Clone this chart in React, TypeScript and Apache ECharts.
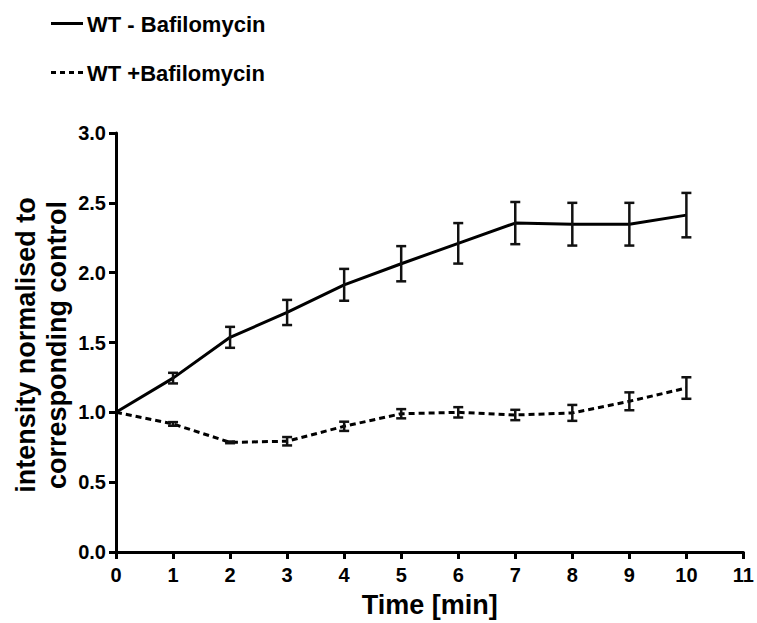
import React, { useEffect, useRef } from "react";
import * as echarts from "echarts";

const times = [0, 1, 2, 3, 4, 5, 6, 7, 8, 9, 10];
const withoutBafMean = [1.0, 1.245, 1.537, 1.715, 1.913, 2.064, 2.21, 2.355, 2.347, 2.347, 2.412];
const withoutBafErr = [0, 0.038, 0.075, 0.09, 0.114, 0.126, 0.145, 0.151, 0.153, 0.153, 0.159];
const withBafMean = [1.0, 0.917, 0.785, 0.793, 0.9, 0.99, 1.0, 0.981, 0.996, 1.079, 1.174];
const withBafErr = [0, 0.013, 0.006, 0.03, 0.033, 0.033, 0.037, 0.037, 0.057, 0.064, 0.077];

const seriesNames = ["WT - Bafilomycin", "WT +Bafilomycin"];
const xTitle = "Time [min]";
const yTitle = "intensity normalised to\ncorresponding control";

const FONT = '"Liberation Sans", Arial, Helvetica, sans-serif';

function errData(means: number[], errs: number[]) {
  return times.map((t, i) => [t, means[i] - errs[i], means[i] + errs[i]]);
}

function errRender(params: any, api: any) {
  const x = api.value(0);
  const lo = api.coord([x, api.value(1)]);
  const hi = api.coord([x, api.value(2)]);
  if (Math.abs(hi[1] - lo[1]) < 1) return null;
  const w = 5;
  const style = { stroke: "#111", lineWidth: 2.5 };
  return {
    type: "group",
    children: [
      { type: "line", shape: { x1: lo[0], y1: lo[1], x2: hi[0], y2: hi[1] }, style },
      { type: "line", shape: { x1: lo[0] - w, y1: lo[1], x2: lo[0] + w, y2: lo[1] }, style },
      { type: "line", shape: { x1: hi[0] - w, y1: hi[1], x2: hi[0] + w, y2: hi[1] }, style },
    ],
  };
}

export default function App() {
  const ref = useRef<HTMLDivElement>(null);
  useEffect(() => {
    document.body.style.margin = "0";
    const chart = echarts.init(ref.current!, undefined, { renderer: "svg" });
    chart.setOption({
      animation: false,
      backgroundColor: "#fff",
      textStyle: { fontFamily: FONT },
      grid: { left: 116, right: 12, top: 133, bottom: 70.5 },
      xAxis: {
        type: "value",
        min: 0,
        max: 11,
        interval: 1,
        name: xTitle,
        nameLocation: "middle",
        nameGap: 39,
        nameTextStyle: { fontSize: 27, fontWeight: "bold", color: "#000", fontFamily: FONT },
        axisLine: { show: true, onZero: false, lineStyle: { color: "#000", width: 3 } },
        axisTick: { show: true, length: 7, lineStyle: { color: "#000", width: 3 } },
        axisLabel: { fontSize: 20, fontWeight: "bold", color: "#000", margin: 13, fontFamily: FONT },
        splitLine: { show: false },
      },
      yAxis: {
        type: "value",
        min: 0,
        max: 3,
        interval: 0.5,
        axisLine: { show: true, onZero: false, lineStyle: { color: "#000", width: 3 } },
        axisTick: { show: true, length: 7, lineStyle: { color: "#000", width: 3 } },
        axisLabel: {
          fontSize: 20,
          fontWeight: "bold",
          color: "#000",
          margin: 10,
          fontFamily: FONT,
          formatter: (v: number) => v.toFixed(1),
        },
        splitLine: { show: false },
      },
      graphic: [
        {
          type: "text",
          x: 41,
          y: 345,
          rotation: Math.PI / 2,
          style: {
            text: yTitle,
            fontSize: 27,
            fontWeight: "bold",
            fontFamily: FONT,
            fill: "#000",
            align: "center",
            verticalAlign: "middle",
            lineHeight: 31,
          },
        },
        {
          type: "line",
          shape: { x1: 51, y1: 23.5, x2: 83, y2: 23.5 },
          style: { stroke: "#000", lineWidth: 3 },
        },
        {
          type: "text",
          x: 87,
          y: 24,
          style: {
            text: seriesNames[0],
            fontSize: 22,
            fontWeight: "bold",
            fontFamily: FONT,
            fill: "#000",
            verticalAlign: "middle",
          },
        },
        {
          type: "line",
          shape: { x1: 51, y1: 72.5, x2: 84, y2: 72.5 },
          style: { stroke: "#000", lineWidth: 3, lineDash: [5, 4] },
        },
        {
          type: "text",
          x: 87,
          y: 73,
          style: {
            text: seriesNames[1],
            fontSize: 22,
            fontWeight: "bold",
            fontFamily: FONT,
            fill: "#000",
            verticalAlign: "middle",
          },
        },
      ],
      series: [
        {
          name: seriesNames[0],
          type: "line",
          data: times.map((t, i) => [t, withoutBafMean[i]]),
          showSymbol: false,
          lineStyle: { color: "#000", width: 3 },
          z: 3,
        },
        {
          name: seriesNames[1],
          type: "line",
          data: times.map((t, i) => [t, withBafMean[i]]),
          showSymbol: false,
          lineStyle: { color: "#000", width: 3, type: [6, 4] },
          z: 3,
        },
        {
          type: "custom",
          renderItem: errRender,
          data: errData(withoutBafMean, withoutBafErr),
          clip: false,
          z: 4,
        },
        {
          type: "custom",
          renderItem: errRender,
          data: errData(withBafMean, withBafErr),
          clip: false,
          z: 4,
        },
      ],
    });
    return () => chart.dispose();
  }, []);
  return <div ref={ref} style={{ width: 757, height: 623 }} />;
}
